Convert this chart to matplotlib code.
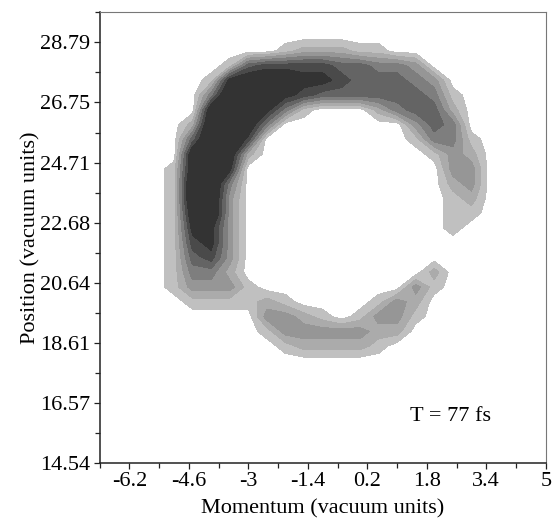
import numpy as np
import matplotlib.pyplot as plt

plt.rcParams['font.family'] = 'Liberation Serif'

# mesh the distribution was read on (vacuum units)
momentum = [-6.0, -5.5, -5.0, -4.5, -4.0, -3.5, -3.0, -2.5, -2.0, -1.5, -1.0,
            -0.5, 0.0, 0.5, 1.0, 1.5, 2.0, 2.5, 3.0, 3.5, 4.0]
position = [29.5, 29.0, 28.5, 28.0, 27.5, 27.0, 26.5, 26.0, 25.5, 25.0, 24.5,
            24.0, 23.5, 23.0, 22.5, 22.0, 21.5, 21.0, 20.5, 20.0, 19.5, 19.0,
            18.5, 18.0, 17.5]

# grey level at each mesh point, one row per position (top row first)
density_rows = [
    "000000000000000000000",
    "000000000000000000000",
    "000000001222110000000",
    "000001566665544300000",
    "000017888776555430000",
    "000049987655555541000",
    "000089974100024552000",
    "000299840000000354000",
    "000599600000000144100",
    "000898200000000013200",
    "001897000000000003300",
    "001994000000000002300",
    "001993000000000001200",
    "001893000000000001100",
    "001773000000000001000",
    "001673000000000000000",
    "001563000000000000000",
    "001442000000000020000",
    "001333100000000310000",
    "000111121000013200000",
    "000000033210133100000",
    "000000013333322000000",
    "000000001222210000000",
    "000000000000000000000",
    "000000000000000000000",
]
density = np.array([[int(ch) for ch in row] for row in density_rows], dtype=float)

levels = [0.5, 1.5, 2.5, 3.5, 4.5, 5.5, 6.5, 9.5]
greys = ['#c0c0c0', '#ababab', '#969696', '#7e7e7e', '#646464', '#4a4a4a', '#333333']

x_ticks = [-6.2, -4.6, -3.0, -1.4, 0.2, 1.8, 3.4, 5.0]
x_labels = ['-6.2', '-4.6', '-3', '-1.4', '0.2', '1.8', '3.4', '5']
x_minor = [-7.0, -5.4, -3.8, -2.2, -0.6, 1.0, 2.6, 4.2]
y_ticks = [14.54, 16.57, 18.61, 20.64, 22.68, 24.71, 26.75, 28.79]
y_labels = ['14.54', '16.57', '18.61', '20.64', '22.68', '24.71', '26.75', '28.79']
y_minor = [15.56, 17.59, 19.63, 21.66, 23.70, 25.73, 27.77, 29.81]

fig = plt.figure(figsize=(5.53, 5.25), dpi=100)
ax = fig.add_axes([0.18, 0.118, 0.807, 0.859])

ax.contourf(momentum, position, density, levels=levels, colors=greys)

ax.set_xlim(-7.0, 5.0)
ax.set_ylim(14.54, 29.81)
ax.set_xticks(x_ticks)
ax.set_xticklabels(x_labels)
ax.set_xticks(x_minor, minor=True)
ax.set_yticks(y_ticks)
ax.set_yticklabels(y_labels)
ax.set_yticks(y_minor, minor=True)
ax.tick_params(which='both', direction='out', width=0.9, color='#222222',
               labelsize=16)
ax.tick_params(which='major', length=4.5, pad=2)
ax.tick_params(which='minor', length=3.5)

for side in ['left', 'bottom']:
    ax.spines[side].set_linewidth(1.1)
    ax.spines[side].set_color('#222222')
for side in ['top', 'right']:
    ax.spines[side].set_linewidth(0.8)
    ax.spines[side].set_color('#777777')

ax.set_xlabel('Momentum (vacuum units)', fontsize=16, labelpad=6)
ax.set_ylabel('Position (vacuum units)', fontsize=16, labelpad=0)

ax.text(2.45, 16.1, 'T = 77 fs', fontsize=16, ha='center', va='center')

fig.savefig('out.png', dpi=100)
